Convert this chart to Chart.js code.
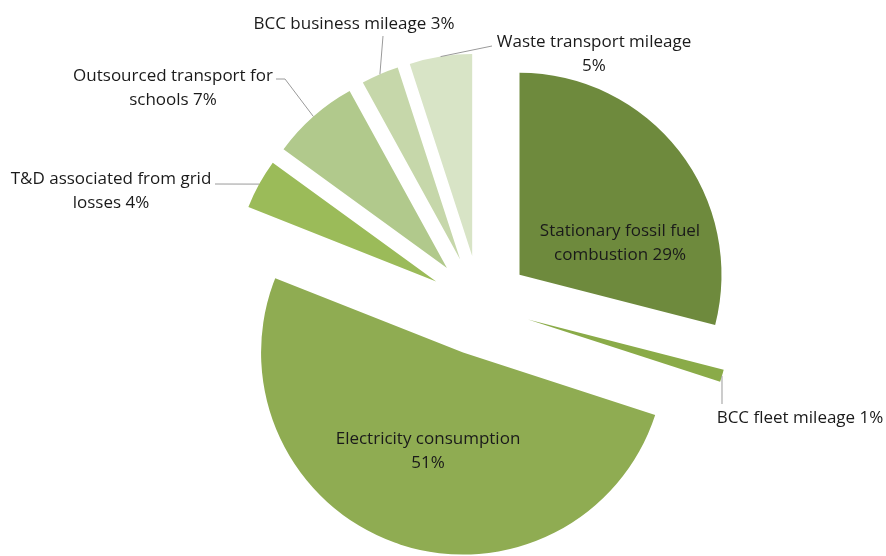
<!DOCTYPE html>
<html>
<head>
<meta charset="utf-8">
<script src="https://cdn.jsdelivr.net/npm/chart.js@4/dist/chart.umd.min.js"></script>
<style>
  html, body { margin: 0; padding: 0; background: #fff; }
  #wrap { width: 886px; height: 556px; }
</style>
</head>
<body>
<div id="wrap"><canvas id="cvs_pie" width="886" height="556"></canvas></div>
<script>
var categories = [
    "Stationary fossil fuel combustion",
    "BCC fleet mileage",
    "Electricity consumption",
    "T&D associated from grid losses",
    "Outsourced transport for schools",
    "BCC business mileage",
    "Waste transport mileage"
];
var shares = [29, 1, 51, 4, 7, 3, 5];

var sliceColors = ['#6e8a3d', '#8aab48', '#8fac52', '#9bbb59', '#b1c98c', '#c6d7aa', '#d8e4c6'];

// label layout: text lines, centre x, first line y, leader elbow points
var labelLayout = [
    { lines: ["Stationary fossil fuel", "combustion 29%"], x: 620, y: 231, leader: null },
    { lines: ["BCC fleet mileage 1%"], x: 800, y: 418, leader: [[722, 404]] },
    { lines: ["Electricity consumption", "51%"], x: 428, y: 439, leader: null },
    { lines: ["T&D associated from grid", "losses 4%"], x: 111, y: 179, leader: [[215, 184]] },
    { lines: ["Outsourced transport for", "schools 7%"], x: 173, y: 76, leader: [[285, 79], [276, 79]] },
    { lines: ["BCC business mileage 3%"], x: 354, y: 24, leader: [[383, 36]] },
    { lines: ["Waste transport mileage", "5%"], x: 594, y: 42, leader: [[492, 46]] }
];

var explode = 50;

var explodePlugin = {
    id: 'explode',
    beforeDatasetDraw: function(chart, args) {
        var ctx = chart.ctx;
        args.meta.data.forEach(function(arc) {
            var mid = (arc.startAngle + arc.endAngle) / 2;
            ctx.save();
            ctx.translate(Math.cos(mid) * explode, Math.sin(mid) * explode);
            arc.draw(ctx);
            ctx.restore();
        });
        return false;
    },
    afterDatasetsDraw: function(chart) {
        var ctx = chart.ctx;
        var meta = chart.getDatasetMeta(0);
        ctx.save();
        ctx.font = '17px "Open Sans", sans-serif';
        ctx.textAlign = 'center';
        ctx.textBaseline = 'middle';
        meta.data.forEach(function(arc, i) {
            var lay = labelLayout[i];
            if (lay.leader) {
                var mid = (arc.startAngle + arc.endAngle) / 2;
                var r = arc.outerRadius + explode;
                ctx.strokeStyle = '#9a9a9a';
                ctx.lineWidth = 1;
                ctx.beginPath();
                ctx.moveTo(arc.x + Math.cos(mid) * r, arc.y + Math.sin(mid) * r);
                lay.leader.forEach(function(p) { ctx.lineTo(p[0], p[1]); });
                ctx.stroke();
            }
            ctx.fillStyle = '#1a1a1a';
            lay.lines.forEach(function(t, k) {
                ctx.fillText(t, lay.x, lay.y + k * 24);
            });
        });
        ctx.restore();
    }
};

var config = {
    type: 'pie',
    data: {
        labels: categories,
        datasets: [{
            data: shares,
            backgroundColor: sliceColors,
            borderWidth: 0
        }]
    },
    options: {
        responsive: false,
        animation: false,
        events: [],
        radius: 202,
        layout: {
            padding: { left: 74, right: 0, top: 55, bottom: 0 }
        },
        plugins: {
            legend: { display: false },
            tooltip: { enabled: false },
            title: { display: false }
        }
    },
    plugins: [explodePlugin]
};

window.onload = function() {
    window.myPie = new Chart(document.getElementById("cvs_pie"), config);
};
</script>
</body>
</html>
